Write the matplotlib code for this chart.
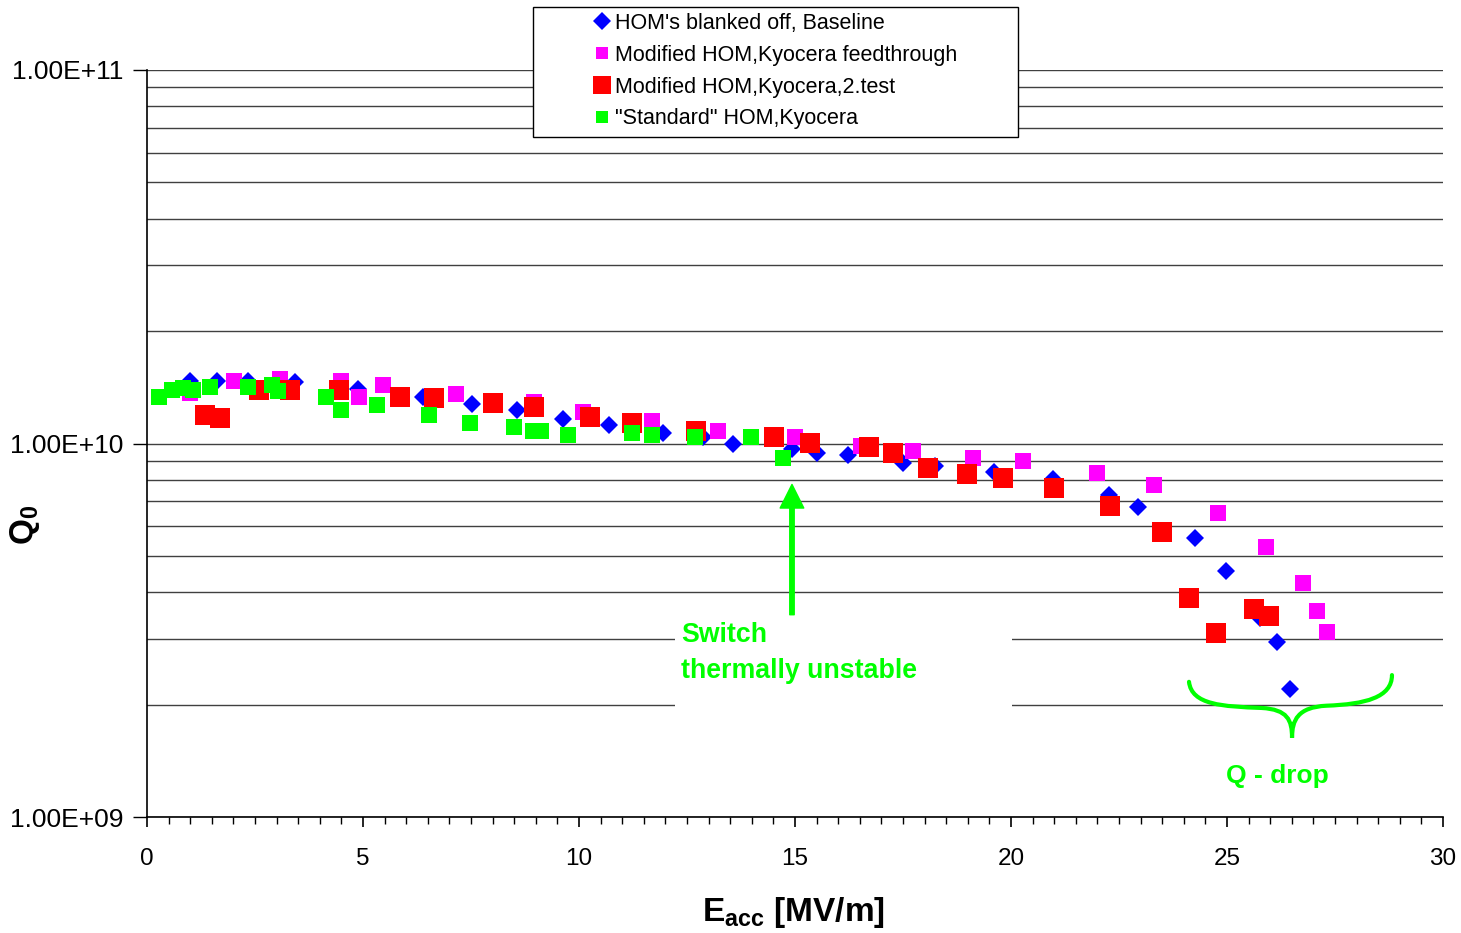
import numpy as np
import matplotlib
matplotlib.use("Agg")
import matplotlib.pyplot as plt
from matplotlib.ticker import FixedLocator, MultipleLocator, FuncFormatter, NullFormatter
from matplotlib.patches import Rectangle, PathPatch
from matplotlib.path import Path

plt.rcParams.update({
    "font.family": "Liberation Sans",
    "mathtext.fontset": "custom",
    "mathtext.rm": "Liberation Sans",
    "mathtext.bf": "Liberation Sans:bold",
})

# --- data (Eacc in MV/m, Q0) ---
base_e = [1.0, 1.62, 2.34, 3.43, 4.88, 6.39, 7.52, 8.56, 9.63, 10.69, 11.94, 12.87,
          13.56, 14.93, 15.51, 16.23, 17.5, 18.24, 19.61, 20.97, 22.27, 22.94,
          24.26, 24.98, 25.76, 26.16, 26.46]
base_q = [1.466e10, 1.466e10, 1.466e10, 1.457e10, 1.395e10, 1.328e10, 1.272e10,
          1.226e10, 1.16e10, 1.124e10, 1.07e10, 1.038e10, 1.0e10, 9.64e9, 9.46e9,
          9.29e9, 8.89e9, 8.68e9, 8.41e9, 8.01e9, 7.3e9, 6.78e9, 5.57e9, 4.57e9,
          3.42e9, 2.95e9, 2.195e9]

mod_e = [1.0, 2.01, 3.08, 4.49, 4.91, 5.46, 7.15, 8.96, 10.09, 11.69, 13.22, 15.0,
         16.53, 17.73, 19.12, 20.28, 21.99, 23.31, 24.79, 25.9, 26.76, 27.08, 27.31]
mod_q = [1.369e10, 1.466e10, 1.484e10, 1.466e10, 1.336e10, 1.43e10, 1.361e10,
         1.288e10, 1.218e10, 1.152e10, 1.077e10, 1.038e10, 9.82e9, 9.52e9, 9.17e9,
         8.95e9, 8.36e9, 7.72e9, 6.53e9, 5.27e9, 4.22e9, 3.57e9, 3.12e9]

mod2_e = [1.34, 1.69, 2.59, 3.31, 4.44, 5.86, 6.64, 8.01, 8.96, 10.25, 11.23, 12.71,
          14.51, 15.35, 16.71, 17.27, 18.08, 18.98, 19.81, 21.0, 22.29, 23.5,
          24.12, 24.75, 25.62, 25.97]
mod2_q = [1.189e10, 1.167e10, 1.387e10, 1.387e10, 1.387e10, 1.336e10, 1.32e10,
          1.28e10, 1.256e10, 1.181e10, 1.138e10, 1.083e10, 1.038e10, 1.006e10,
          9.76e9, 9.46e9, 8.62e9, 8.31e9, 8.06e9, 7.58e9, 6.82e9, 5.78e9,
          3.85e9, 3.1e9, 3.616e9, 3.463e9]

std_e = [0.28, 0.58, 0.83, 1.06, 1.46, 2.34, 2.89, 3.03, 4.14, 4.49, 5.32, 6.53,
         7.48, 8.5, 8.94, 9.12, 9.75, 11.23, 11.69, 12.69, 13.98, 14.72]
std_q = [1.336e10, 1.387e10, 1.404e10, 1.387e10, 1.421e10, 1.421e10, 1.43e10,
         1.378e10, 1.336e10, 1.226e10, 1.264e10, 1.189e10, 1.138e10, 1.11e10,
         1.077e10, 1.077e10, 1.057e10, 1.07e10, 1.057e10, 1.044e10, 1.038e10, 9.17e9]

labels = ["HOM's blanked off, Baseline",
          "Modified HOM,Kyocera feedthrough",
          "Modified HOM,Kyocera,2.test",
          "\"Standard\" HOM,Kyocera"]

GREEN = "#00FF00"

fig = plt.figure(figsize=(14.61, 9.33), dpi=100)
ax = fig.add_axes([0.1006, 0.1243, 0.8871, 0.8007])

ax.plot(base_e, base_q, "D", color="#0000FF", markersize=9, markeredgewidth=0,
        label=labels[0], zorder=3)
ax.plot(mod_e, mod_q, "s", color="#FF00FF", markersize=12, markeredgewidth=0,
        label=labels[1], zorder=4)
ax.plot(mod2_e, mod2_q, "s", color="#FF0000", markersize=13.7, markeredgewidth=0,
        label=labels[2], zorder=5)
ax.plot(std_e, std_q, "s", color=GREEN, markersize=12, markeredgewidth=0,
        label=labels[3], zorder=6)

ax.set_yscale("log")
ax.set_xlim(0, 30)
ax.set_ylim(1e9, 1e11)

ax.xaxis.set_major_locator(MultipleLocator(5))
ax.xaxis.set_minor_locator(MultipleLocator(0.5))
ax.yaxis.set_major_locator(FixedLocator([1e9, 1e10, 1e11]))
ax.yaxis.set_major_formatter(FuncFormatter(lambda v, p: f"{v:.2E}"))
ax.yaxis.set_minor_locator(FixedLocator([m * 10.0**e for e in (9, 10) for m in range(2, 10)]))
ax.yaxis.set_minor_formatter(NullFormatter())

ax.tick_params(axis="x", which="major", direction="out", length=7, width=1.2,
               labelsize=17.5, pad=15)
ax.tick_params(axis="x", which="minor", direction="out", length=5, width=1)
ax.tick_params(axis="y", which="major", direction="out", length=10, width=1,
               labelsize=19, pad=7)
ax.tick_params(axis="y", which="minor", length=0)

ax.grid(True, axis="y", which="both", color="#404040", linewidth=1)
for s in ("top", "right"):
    ax.spines[s].set_visible(False)
for s in ("left", "bottom"):
    ax.spines[s].set_linewidth(1.2)

ax.set_xlabel(r"E$_{\mathbf{acc}}$ [MV/m]", fontsize=24, fontweight="bold")
ax.xaxis.set_label_coords(0.4985, -0.105)
ax.set_ylabel(r"Q$_{\mathbf{0}}$", fontsize=24, fontweight="bold")
ax.yaxis.set_label_coords(-0.081, 0.391)

# white patch behind the annotation text
ax.add_patch(Rectangle((0.4074, 0.13), 0.26, 0.154, transform=ax.transAxes,
                       facecolor="white", edgecolor="none", zorder=1.7))
ax.text(0.412, 0.261, "Switch\nthermally unstable", transform=ax.transAxes,
        color=GREEN, fontsize=19.3, fontweight="bold", va="top", ha="left",
        linespacing=1.5, zorder=7)
ax.annotate("", xy=(14.93, 7.77e9), xytext=(14.93, 3.48e9),
            arrowprops=dict(facecolor=GREEN, edgecolor=GREEN, width=3.2,
                            headwidth=17, headlength=17, shrink=0), zorder=7)

# curly brace marking the Q-drop
verts = [(0.804, 0.181), (0.806, 0.150), (0.830, 0.148), (0.860, 0.146),
         (0.880, 0.144), (0.8835, 0.130), (0.8835, 0.106),
         (0.8835, 0.130), (0.888, 0.147), (0.910, 0.149),
         (0.940, 0.151), (0.9606, 0.160), (0.9606, 0.190)]
codes = [Path.MOVETO] + [Path.CURVE4] * 12
ax.add_patch(PathPatch(Path(verts, codes), transform=ax.transAxes, fill=False,
                       edgecolor=GREEN, linewidth=3, capstyle="round",
                       clip_on=False, zorder=7))
ax.text(0.872, 0.055, "Q - drop", transform=ax.transAxes, color=GREEN,
        fontsize=19, fontweight="bold", ha="center", va="center", zorder=7)

# legend with a box of its own, as in the original
fig.patches.append(Rectangle((533 / 1461, 1 - 137 / 933), 485 / 1461, 130 / 933,
                             transform=fig.transFigure, facecolor="white",
                             edgecolor="black", linewidth=1, zorder=5))
leg = fig.legend(loc="upper left", bbox_to_anchor=(593 / 1461, 1 - 13 / 933),
                 frameon=False, fontsize=15.5, handlelength=0.8,
                 handletextpad=0.2, labelspacing=0.5, borderpad=0,
                 borderaxespad=0, numpoints=1)
leg.set_zorder(6)
for h, ms in zip(leg.legend_handles, [9, 9, 12.5, 9]):
    h.set_markersize(ms)

fig.savefig("out.png", dpi=100)
